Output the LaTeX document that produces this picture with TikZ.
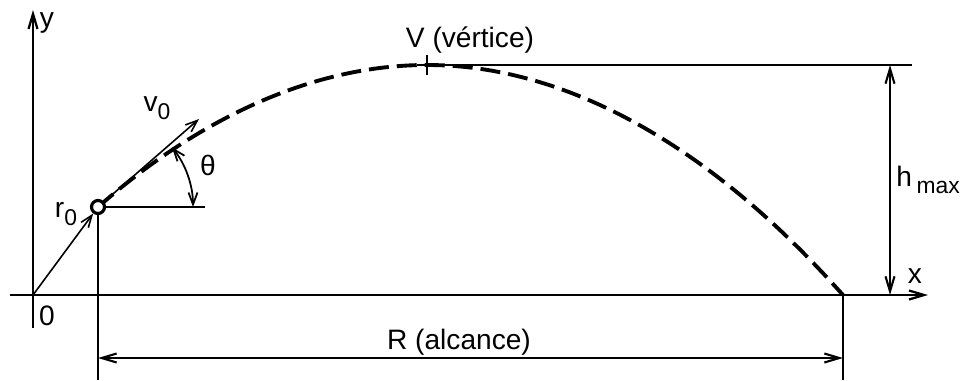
\documentclass[tikz,border=0pt]{standalone}
\usepackage{fontspec}
\setmainfont{Liberation Sans}
\usetikzlibrary{arrows.meta}
\newcommand{\low}[1]{\raisebox{-0.5ex}{\fontsize{13}{15}\selectfont #1}}

\begin{document}
\begin{tikzpicture}[
    x=0.02cm, y=0.02cm,
    font=\fontsize{16}{19}\selectfont,
    axis/.style={line width=1.3pt, -{Straight Barb[length=3mm, width=1.8mm]}},
    vec/.style={line width=0.9pt, -{Straight Barb[length=2.4mm, width=1.8mm]}},
    dim/.style={line width=1.2pt, {Straight Barb[length=3mm, width=1.8mm]}-{Straight Barb[length=3mm, width=1.8mm]}},
    guide/.style={line width=1.2pt},
    traj/.style={line width=2.2pt, dash pattern=on 0.4cm off 0.16cm},
    lbl/.style={inner sep=1pt}
]
\useasboundingbox (0,0) rectangle (967,380);

% points
\coordinate (O) at (33,85);
\coordinate (ybot) at (33,52);
\coordinate (ytop) at (33,370);
\coordinate (xleft) at (10,85);
\coordinate (xright) at (928,85);
\coordinate (V) at (427,315);
\coordinate (Rend) at (843,85);
\coordinate (vtip) at (199,261);
\coordinate (href) at (205,173);

% axes
\draw[axis] (ybot) -- (ytop);
\draw[axis] (xleft) -- (xright);
\node[lbl] (ylab) at (47,357) {y};
\node[lbl] (xlab) at (915,104) {x};
\node[lbl] (olab) at (47,64) {0};

% trajectory
\draw[traj] (98,173) parabola bend (V) (Rend);
\node[circle, draw, line width=1.8pt, fill=white, inner sep=0pt, minimum size=0.26cm] (r0) at (98,173) {};

% vectors
\draw[vec] (O) -- (r0);
\draw[vec] (r0) -- (vtip);
\node[lbl] (r0lab) at (66,166) {r\low{0}};
\node[lbl] (v0lab) at (157,272) {v\low{0}};

% angle
\draw[guide] (r0) -- (href);
\draw[line width=1pt, {Straight Barb[length=2.4mm, width=1.8mm]}-{Straight Barb[length=2.4mm, width=1.8mm]}]
    ([shift={(0:95)}]r0.center) arc[start angle=0, end angle=39, radius=95];
\node[lbl] (thlab) at (208,215) {θ};

% vertex
\draw[guide] (V) +(-10,0) -- +(10,0) +(0,-10) -- +(0,10);
\node[lbl] (vlab) at (470,340) {V (vértice)};
\coordinate (htop) at (912,315);
\draw[guide] ([xshift=0.28cm]V) -- (htop);

% maximum height
\coordinate (hup) at (890,315);
\coordinate (hdown) at (890,85);
\draw[dim] (hup) -- (hdown);
\node[lbl] (hlab) at (928,200) {h\,\low{max}};

% range
\coordinate (rbot) at (98,0);
\coordinate (rebot) at (843,0);
\draw[guide] (r0) -- (rbot);
\draw[guide] (Rend) -- (rebot);
\coordinate (ra) at (98,22);
\coordinate (rb) at (843,22);
\draw[dim] (ra) -- (rb);
\node[lbl] (rlab) at (459,38) {R (alcance)};
\end{tikzpicture}
\end{document}
